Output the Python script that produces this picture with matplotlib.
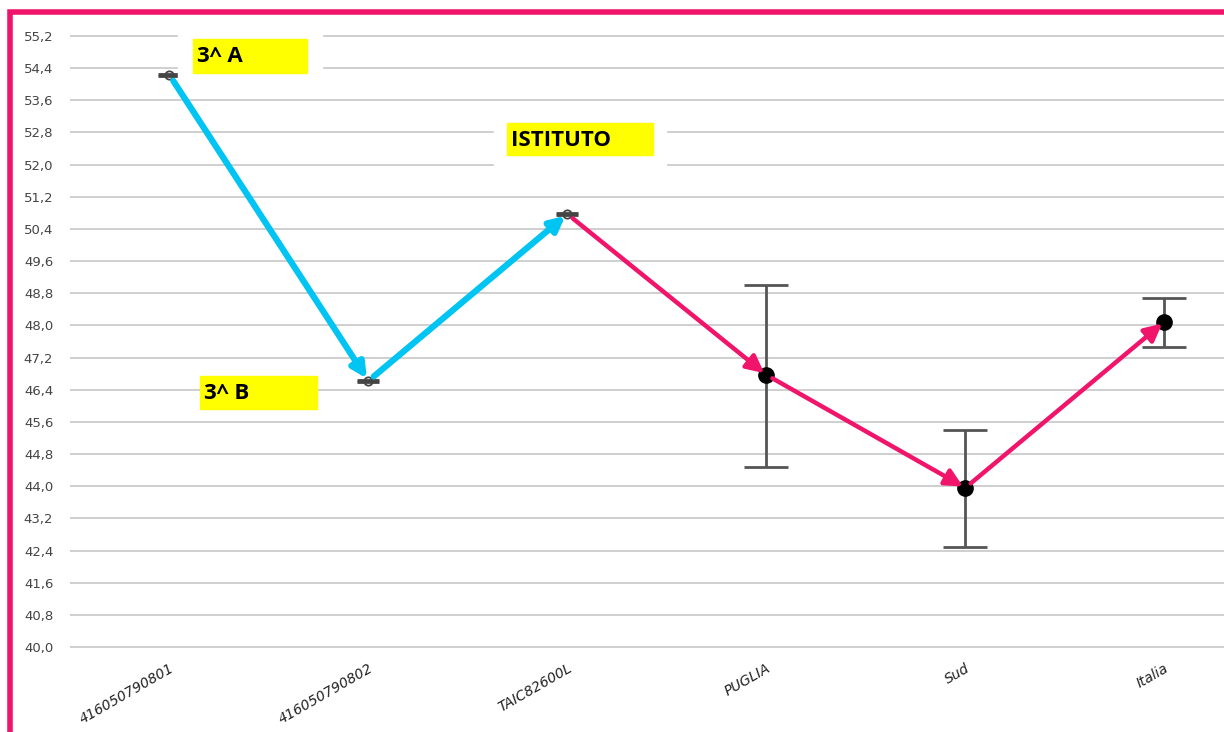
import numpy as np
import matplotlib.pyplot as plt
from matplotlib.patches import Rectangle

# Dati
categorie = ['416050790801', '416050790802', 'TAIC82600L', 'PUGLIA', 'Sud', 'Italia']
medie = [54.23, 46.62, 50.77, 46.77, 43.96, 48.09]
err_sup = [54.25, 46.64, 50.79, 49.0, 45.4, 48.68]
err_inf = [54.21, 46.60, 50.75, 44.48, 42.49, 47.46]
tick_y = np.arange(40.0, 55.3, 0.8)
etichette_y = [f'{v:.1f}'.replace('.', ',') for v in tick_y]

ciano = '#00C4F2'
rosa = '#F0146A'

fig = plt.figure(figsize=(12.24, 7.32), dpi=100)
ax = fig.add_axes([70/1224, 83/732, 1160/1224, 617/732])

x = np.arange(len(categorie))
med = np.array(medie)
yerr = np.array([med - np.array(err_inf), np.array(err_sup) - med])

# barre d'errore: piccole per le classi/istituto, grandi per i riferimenti
ax.errorbar(x[:3], med[:3], yerr=yerr[:, :3], fmt='none', ecolor='#444444', elinewidth=2,
            capsize=8, capthick=2, zorder=3)
ax.errorbar(x[3:], med[3:], yerr=yerr[:, 3:], fmt='none', ecolor='#555555', elinewidth=2,
            capsize=16, capthick=2, zorder=3)
ax.plot(x[:3], med[:3], 'o', ms=6, mfc='none', mec='#444444', mew=1.3, zorder=4)
ax.plot(x[3:], med[3:], 'o', ms=11, color='black', zorder=4)

# frecce
for i in range(len(x) - 1):
    col = ciano if i < 2 else rosa
    lw = 4.5 if i < 2 else 3.2
    ms = 22 if i < 2 else 26
    ax.annotate('', xy=(x[i+1], med[i+1]), xytext=(x[i], med[i]),
                arrowprops=dict(arrowstyle='-|>', color=col, lw=lw, mutation_scale=ms,
                                shrinkA=5, shrinkB=2), zorder=5)

ax.set_ylim(39.95, 55.3)
ax.set_xlim(-0.5, 5.33)
ax.set_yticks(tick_y)
ax.set_yticklabels(etichette_y, fontsize=9.5, color='#444444')
ax.set_xticks(x)
ax.set_xticklabels(categorie, rotation=30, ha='right', rotation_mode='anchor',
                   fontsize=10, style='italic', color='#222222')
ax.tick_params(axis='y', length=0, pad=12)
ax.tick_params(axis='x', length=0, pad=9)
ax.yaxis.grid(True, color='#cccccc', lw=1.3)
ax.set_axisbelow(True)
for s in ax.spines.values():
    s.set_visible(False)

# riquadri di testo
def etichetta(x0, y0, w, h, testo, bianco=None):
    if bianco:
        fig.patches.append(Rectangle((bianco[0]/1224, 1 - bianco[3]/732), (bianco[2]-bianco[0])/1224,
                                     (bianco[3]-bianco[1])/732, transform=fig.transFigure,
                                     color='white', zorder=6))
    fig.patches.append(Rectangle((x0/1224, 1 - (y0 + h)/732), w/1224, h/732,
                                 transform=fig.transFigure, color='#FFFF00', zorder=7))
    fig.text((x0 + 4)/1224, 1 - (y0 + h/2 + 1)/732, testo, fontsize=16, fontweight='bold',
             va='center', ha='left', zorder=8, family='Open Sans')

etichetta(193, 39, 114, 34, '3^ A', bianco=(178, 30, 322, 78))
etichetta(507, 123, 146, 32, 'ISTITUTO', bianco=(494, 113, 666, 165))
etichetta(200, 376, 117, 33, '3^ B')

# bordo rosa
fig.patches.append(Rectangle((10/1224, -0.01), 1.1, 1 - 12/732 + 0.01, transform=fig.transFigure,
                             fill=False, ec=rosa, lw=4, zorder=10))

fig.savefig('out.png', dpi=100)
